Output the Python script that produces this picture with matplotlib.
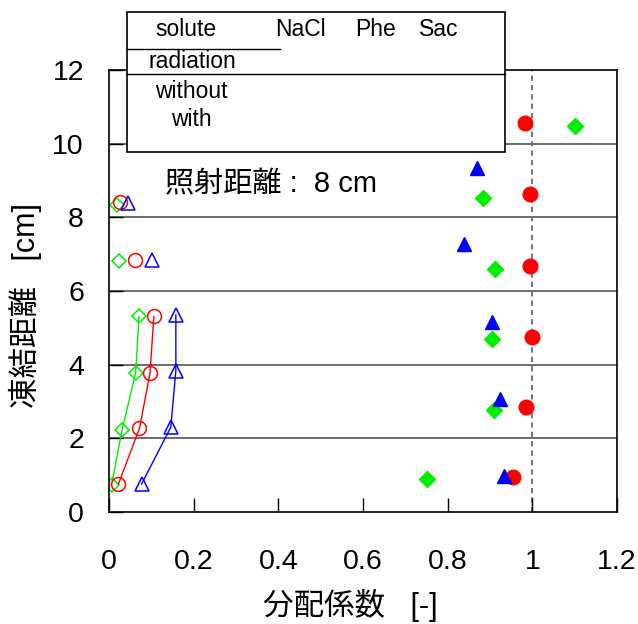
import matplotlib.pyplot as plt
from matplotlib.patches import Rectangle
from matplotlib.lines import Line2D

plt.rcParams['font.family'] = ['Liberation Sans', 'Noto Sans CJK JP', 'DejaVu Sans']

# 照射なし（白抜き、線あり）
open_nacl_x = [0.022, 0.072, 0.097, 0.106]
open_nacl_y = [0.75, 2.27, 3.77, 5.31]
open_phe_x = [0.077, 0.146, 0.158, 0.158]
open_phe_y = [0.76, 2.30, 3.84, 5.35]
open_sac_x = [0.006, 0.031, 0.063, 0.071]
open_sac_y = [0.73, 2.23, 3.77, 5.31]

# 白抜き、線なし
extra_nacl_x = [0.061, 0.026]
extra_nacl_y = [6.85, 8.43]
extra_phe_x = [0.102, 0.044]
extra_phe_y = [6.85, 8.40]
extra_sac_x = [0.024, 0.020]
extra_sac_y = [6.82, 8.34]

# 照射あり（塗りつぶし）
fill_nacl_x = [0.955, 0.985, 1.000, 0.994, 0.994, 0.982]
fill_nacl_y = [0.96, 2.86, 4.75, 6.69, 8.64, 10.56]
fill_phe_x = [0.933, 0.923, 0.906, 0.839, 0.870]
fill_phe_y = [0.98, 3.06, 5.17, 7.28, 9.34]
fill_sac_x = [0.752, 0.909, 0.906, 0.911, 0.884, 1.102]
fill_sac_y = [0.89, 2.77, 4.69, 6.59, 8.52, 10.47]

xticks = [0, 0.2, 0.4, 0.6, 0.8, 1, 1.2]
xtick_labels = ['0', '0.2', '0.4', '0.6', '0.8', '1', '1.2']
yticks = [0, 2, 4, 6, 8, 10, 12]

red, blue, green = '#ff0000', '#0000ff', '#00ee00'

fig = plt.figure(figsize=(6.38, 6.24), dpi=100)
ax = fig.add_axes([0.1708, 0.1795, 0.7962, 0.7083])

for y in [2, 4, 6, 8, 10]:
    ax.axhline(y, color='#444444', lw=1.1, zorder=1)
ax.axvline(1.0, color='#777777', lw=1.5, ls=(0, (2.5, 2)), zorder=1)

ax.plot(open_sac_x, open_sac_y, color=green, lw=1, marker='D', ms=7.5, mfc='none', mec=green, mew=1.1)
ax.plot(open_nacl_x, open_nacl_y, color=red, lw=1, marker='o', ms=10, mfc='none', mec=red, mew=1.1)
ax.plot(open_phe_x, open_phe_y, color=blue, lw=1, marker='^', ms=9.5, mfc='none', mec=blue, mew=1.1)

ax.plot(extra_sac_x, extra_sac_y, ls='none', marker='D', ms=7.5, mfc='none', mec=green, mew=1.1)
ax.plot(extra_nacl_x, extra_nacl_y, ls='none', marker='o', ms=10, mfc='none', mec=red, mew=1.1)
ax.plot(extra_phe_x, extra_phe_y, ls='none', marker='^', ms=9.5, mfc='none', mec=blue, mew=1.1)

ax.plot(fill_sac_x, fill_sac_y, ls='none', marker='D', ms=8, color=green)
ax.plot(fill_nacl_x, fill_nacl_y, ls='none', marker='o', ms=10.5, color=red)
ax.plot(fill_phe_x, fill_phe_y, ls='none', marker='^', ms=9.5, color=blue)

ax.set_xlim(0, 1.2)
ax.set_ylim(0, 12)
ax.set_xticks(xticks)
ax.set_xticklabels(xtick_labels)
ax.set_yticks(yticks)
ax.tick_params(direction='in', length=10, width=1, labelsize=20.5)
ax.tick_params(axis='y', pad=18)
ax.tick_params(axis='x', pad=27)
for s in ax.spines.values():
    s.set_linewidth(1.2)

ax.text(0.132, 8.9, '照射距離 :  8 cm', fontsize=21, va='center', ha='left')

ax.set_xlabel('分配係数   [-]', fontsize=22)
ax.set_ylabel('凍結距離   [cm]', fontsize=22)
ax.xaxis.set_label_coords(0.476, -0.174)
ax.yaxis.set_label_coords(-0.132, 0.468)

# 凡例の表
fig.add_artist(Rectangle((127 / 638, 1 - 152 / 624), (505 - 127) / 638, (152 - 12) / 624,
                         transform=fig.transFigure, facecolor='white', edgecolor='black',
                         lw=1.2, zorder=10))
fig.add_artist(Line2D([127 / 638, 280 / 638], [1 - 49 / 624, 1 - 49 / 624],
                      transform=fig.transFigure, color='black', lw=1, zorder=11))
fig.add_artist(Line2D([127 / 638, 505 / 638], [1 - 74 / 624, 1 - 74 / 624],
                      transform=fig.transFigure, color='black', lw=1, zorder=11))
legend_texts = [('solute', 155, 30), ('NaCl', 275, 30), ('Phe', 355, 30), ('Sac', 419, 30),
                ('radiation', 149, 61), ('without', 155, 91), ('with', 171, 120)]
for txt, px, py in legend_texts:
    fig.text(px / 638, 1 - py / 624, txt, fontsize=16.5, ha='left', va='center', zorder=12)

fig.savefig('out.png', dpi=100)
